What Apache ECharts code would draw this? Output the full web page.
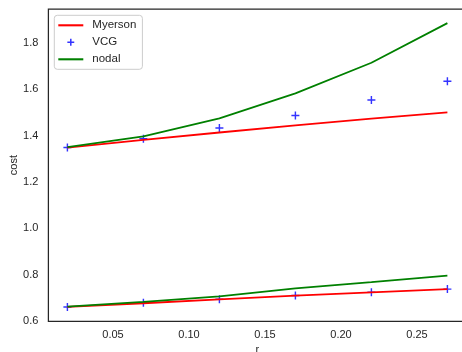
<!DOCTYPE html>
<html>
<head>
<meta charset="utf-8">
<script src="https://cdn.jsdelivr.net/npm/echarts@6/dist/echarts.min.js"></script>
<style>
  html, body { margin: 0; padding: 0; background: #fff; }
  #chart { width: 462px; height: 352px; }
</style>
</head>
<body>
<div id="chart"></div>
<script>
// reserve ratio r and the cost of each mechanism (two scenarios each)
const r = [0.02, 0.07, 0.12, 0.17, 0.22, 0.27];
const myersonHigh = [1.348, 1.381, 1.413, 1.444, 1.473, 1.500];
const vcgHigh     = [1.348, 1.386, 1.432, 1.486, 1.553, 1.634];
const nodalHigh   = [1.350, 1.396, 1.474, 1.582, 1.714, 1.885];
const myersonLow  = [0.660, 0.676, 0.693, 0.709, 0.723, 0.737];
const vcgLow      = [0.660, 0.678, 0.693, 0.709, 0.723, 0.737];
const nodalLow    = [0.661, 0.682, 0.706, 0.740, 0.767, 0.795];
const xTicks = [0.05, 0.10, 0.15, 0.20, 0.25];
const yTicks = [0.6, 0.8, 1.0, 1.2, 1.4, 1.6, 1.8];

const FONT = '"Liberation Sans", Arial, sans-serif';
const INK = '#262626';
const PLUS = 'path://M-0.18,-1L0.18,-1L0.18,-0.18L1,-0.18L1,0.18L0.18,0.18L0.18,1L-0.18,1L-0.18,0.18L-1,0.18L-1,-0.18L-0.18,-0.18Z';
// same cross with an empty margin so the legend icon stays small
const PLUS_KEY = 'path://M-1.45,-1.45L-1.45,-1.45ZM1.45,1.45L1.45,1.45Z' +
  'M-0.22,-1L0.22,-1L0.22,-0.22L1,-0.22L1,0.22L0.22,0.22L0.22,1L-0.22,1L-0.22,0.22L-1,0.22L-1,-0.22L-0.22,-0.22Z';
const LINE_KEY = 'path://M0,0L24,0L24,2L0,2Z';

const pairs = ys => r.map((x, i) => [x, ys[i]]);

function lineSeries(name, ys, color) {
  return {
    name, type: 'line', data: pairs(ys),
    symbol: 'none', showSymbol: false,
    lineStyle: { color, width: 1.8 },
    itemStyle: { color },
    animation: false
  };
}
function plusSeries(name, ys) {
  return {
    name, type: 'scatter', data: pairs(ys),
    symbol: PLUS, symbolSize: 8,
    itemStyle: { color: '#0000ff' },
    animation: false
  };
}

const chart = echarts.init(document.getElementById('chart'), null, { renderer: 'canvas' });
chart.setOption({
  backgroundColor: '#fff',
  textStyle: { fontFamily: FONT },
  grid: {
    left: 48.4, top: 9, width: 418, height: 312.3,
    outerBoundsMode: 'none', containLabel: false,
    show: true, borderColor: INK, borderWidth: 1.25, backgroundColor: '#fff'
  },
  legend: {
    left: 54.3, top: 15.3,
    orient: 'vertical',
    data: [
      { name: 'Myerson', icon: LINE_KEY, itemStyle: { color: '#ff0000' } },
      { name: 'VCG', icon: PLUS_KEY, itemStyle: { color: '#0000ff' } },
      { name: 'nodal', icon: LINE_KEY, itemStyle: { color: '#008000' } }
    ],
    itemWidth: 25, itemHeight: 10, itemGap: 5,
    padding: [4, 6, 4, 4],
    borderColor: '#cccccc', borderWidth: 1, borderRadius: 3,
    backgroundColor: 'rgba(255,255,255,0.8)',
    textStyle: { fontFamily: FONT, fontSize: 11.5, color: INK, lineHeight: 12, padding: [0, 0, 0, 4] }
  },
  xAxis: {
    type: 'value', min: 0.0075, max: 0.2825,
    name: 'r', nameLocation: 'middle', nameGap: 23.5, nameMoveOverlap: false,
    nameTextStyle: { fontFamily: FONT, fontSize: 11, color: INK },
    axisLine: { show: false }, axisTick: { show: false }, splitLine: { show: false },
    axisLabel: {
      customValues: xTicks, margin: 8, fontFamily: FONT, fontSize: 11, color: INK,
      formatter: v => v.toFixed(2)
    }
  },
  yAxis: {
    type: 'value', min: 0.598, max: 1.946,
    name: 'cost', nameLocation: 'middle', nameGap: 29, nameRotate: 90, nameMoveOverlap: false,
    nameTextStyle: { fontFamily: FONT, fontSize: 11, color: INK },
    axisLine: { show: false }, axisTick: { show: false }, splitLine: { show: false },
    axisLabel: {
      customValues: yTicks, margin: 10, fontFamily: FONT, fontSize: 11, color: INK,
      formatter: v => v.toFixed(1)
    }
  },
  series: [
    lineSeries('Myerson', myersonHigh, '#ff0000'),
    plusSeries('VCG', vcgHigh),
    lineSeries('nodal', nodalHigh, '#008000'),
    lineSeries('Myerson', myersonLow, '#ff0000'),
    plusSeries('VCG', vcgLow),
    lineSeries('nodal', nodalLow, '#008000')
  ]
});
</script>
</body>
</html>
